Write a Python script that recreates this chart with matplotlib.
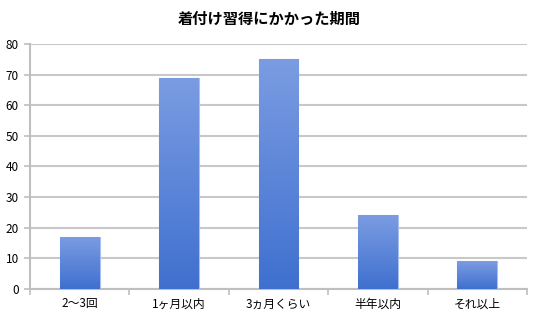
import numpy as np
import matplotlib.pyplot as plt
from matplotlib.colors import LinearSegmentedColormap

plt.rcParams['font.family'] = ['Noto Sans CJK JP', 'DejaVu Sans']

# --- DATA ---
categories = ['2〜3回', '1ヶ月以内', '3ヵ月くらい', '半年以内', 'それ以上']
counts = [17, 69, 75, 24, 9]
title = '着付け習得にかかった期間'

fig = plt.figure(figsize=(5.39, 3.16), dpi=100)
ax = fig.add_axes([0.0557, 0.0854, 0.922, 0.7756])

x = np.arange(len(categories))
bars = ax.bar(x, counts, width=0.40, color='#5582da', edgecolor='#a9c0ee',
              linewidth=0.8, zorder=3)

# vertical gradient: lighter at top, darker at bottom
cmap = LinearSegmentedColormap.from_list('g', ['#3f70cf', '#7b9ce2'])
grad = np.linspace(0, 1, 256).reshape(-1, 1)
for b in bars:
    x0, y0 = b.get_x(), b.get_y()
    w, h = b.get_width(), b.get_height()
    im = ax.imshow(grad, cmap=cmap, origin='lower', aspect='auto',
                   extent=[x0, x0 + w, y0, y0 + h], zorder=3)
    im.set_clip_path(b)

ax.set_xlim(-0.5, len(categories) - 0.5)
ax.set_ylim(0, 80)
ax.set_yticks(range(0, 81, 10))
ax.set_xticks(x)
ax.set_xticklabels(categories, fontsize=8.5)
ax.tick_params(axis='y', labelsize=8.5, length=4, color='#bfbfbf', width=1.2, pad=4)
ax.tick_params(axis='x', length=0, pad=6)
ax.set_xticks(np.arange(-0.5, len(categories)), minor=True)
ax.tick_params(axis='x', which='minor', length=4, color='#bfbfbf', width=1.2)

ax.yaxis.grid(True, color='#c8c8c8', linewidth=1.5, zorder=0)
ax.set_axisbelow(True)
for s in ['top', 'right']:
    ax.spines[s].set_visible(False)
for s in ['left', 'bottom']:
    ax.spines[s].set_color('#bfbfbf')
    ax.spines[s].set_linewidth(1.5)

fig.text(0.5, 0.94, title, ha='center', va='center', fontsize=11, fontweight='bold')

fig.savefig('out.png', dpi=100)
